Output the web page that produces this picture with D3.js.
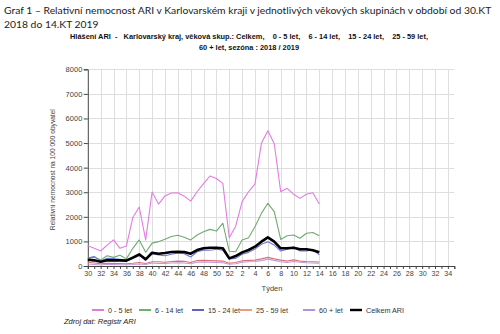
<!DOCTYPE html>
<html>
<head>
<meta charset="utf-8">
<script src="https://cdn.jsdelivr.net/npm/d3@7/dist/d3.min.js"></script>
<style>
  html, body { margin: 0; padding: 0; background: #fff; }
  svg { display: block; }
</style>
</head>
<body>
<svg id="chart" width="500" height="334"></svg>
<script>
// Calendar weeks of the season 2018/2019 (axis runs from week 30 to week 35)
const axisWeeks = [30,31,32,33,34,35,36,37,38,39,40,41,42,43,44,45,46,47,48,49,50,51,52,
                   1,2,3,4,5,6,7,8,9,10,11,12,13,14,15,16,17,18,19,20,21,22,23,24,25,26,27,28,29,30,31,32,33,34,35];

// Reported weeks with data (30.KT 2018 – 14.KT 2019)
const dataWeeks = [30,31,32,33,34,35,36,37,38,39,40,41,42,43,44,45,46,47,48,49,50,51,52,
                   1,2,3,4,5,6,7,8,9,10,11,12,13,14];

// ARI incidence per 100 000 inhabitants, by age group
const age0_5 = [820,720,610,850,1060,720,810,1970,2400,1060,3010,2520,2850,2970,2980,2840,2640,3020,3350,3660,3560,3360,1150,
                1620,2620,3020,3330,4990,5500,4970,3020,3160,2920,2750,2920,2980,2520];
const age6_14 = [300,360,250,420,350,440,290,720,1060,560,930,990,1090,1200,1250,1170,1060,1260,1390,1490,1420,1740,600,
                 580,1060,1150,1600,2140,2550,2210,1080,1230,1260,1130,1330,1360,1230];
const age15_24 = [325,390,200,310,300,270,200,310,420,310,500,450,420,475,530,500,365,580,640,640,680,640,285,
                  310,475,555,690,880,990,850,610,680,770,610,610,665,450];
const age25_59 = [150,120,90,110,100,100,90,110,140,100,170,170,150,180,200,190,140,220,230,220,210,200,110,
                  140,210,230,240,290,350,290,240,200,250,200,180,170,160];
const age60plus = [80,60,40,70,60,50,50,60,80,60,120,100,100,120,130,120,90,150,160,150,140,130,70,
                   90,150,170,180,220,280,230,170,140,180,150,130,120,110];
const total = [257,230,176,230,230,230,217,340,475,270,540,500,530,570,580,570,500,650,720,745,745,720,310,
               405,555,650,785,990,1165,990,720,720,745,680,680,640,555];

const yTicks = [0,1000,2000,3000,4000,5000,6000,7000,8000];

const seriesNames = ["0 - 5 let", "6 - 14 let", "15 - 24 let", "25 - 59 let", "60 + let", "Celkem ARI"];
const seriesValues = [age0_5, age6_14, age15_24, age25_59, age60plus, total];
const lineColors = ["#e47be4", "#6fab6f", "#6f73d6", "#d9707e", "#c49ad8", "#000000"];
const legendColors = ["#d040d0", "#2f8f2f", "#1a1ab0", "#e8704a", "#9b5fc8", "#000000"];
const lineWidths = [1.1, 1.1, 1.1, 1.1, 1.1, 2.6];

const svg = d3.select("#chart");

// Page heading: the first line is sized so it spans the page width
const heading1 = svg.append("text")
  .attr("x", 4).attr("y", 14)
  .attr("font-family", "Lato, 'Open Sans', sans-serif")
  .attr("font-size", 11)
  .attr("fill", "#222")
  .text("Graf 1 – Relativní nemocnost ARI v Karlovarském kraji v jednotlivých věkových skupinách v období od 30.KT");
const headingSize = Math.min(11.5, 11 * 488 / heading1.node().getComputedTextLength());
heading1.attr("font-size", headingSize);
svg.append("text")
  .attr("x", 4).attr("y", 27.5)
  .attr("font-family", "Lato, 'Open Sans', sans-serif")
  .attr("font-size", headingSize)
  .attr("fill", "#222")
  .text("2018 do 14.KT 2019");

// Chart subtitle; wide gaps between the age groups use no-break spaces
const gap = "\u00A0\u00A0\u00A0\u00A0";
const sub = svg.append("g")
  .attr("font-family", "'Liberation Sans', Arial, sans-serif")
  .attr("font-weight", "bold")
  .attr("fill", "#111")
  .attr("text-anchor", "middle");
const sub1 = sub.append("text").attr("x", 249).attr("y", 38.5)
  .attr("font-size", 7.2)
  .text(`Hlášení ARI\u00A0\u00A0-\u00A0\u00A0 Karlovarský kraj, věková skup.: Celkem,${gap}0 - 5 let,${gap}6 - 14 let,${gap}15 - 24 let,${gap}25 - 59 let,`);
const subSize = Math.min(7.4, 7.2 * 382 / sub1.node().getComputedTextLength());
sub1.attr("font-size", subSize);
sub.append("text").attr("x", 249).attr("y", 49.5)
  .attr("font-size", subSize)
  .text("60 + let, sezóna : 2018 / 2019");

// Scales
const x = d3.scaleLinear().domain([0, axisWeeks.length - 1]).range([87.8, 454.3]);
const y = d3.scaleLinear().domain([0, 8000]).range([266, 69.3]);

// Grid
const grid = svg.append("g").attr("stroke", "#dedede").attr("stroke-width", 1);
grid.selectAll("line.h").data(yTicks.slice(1)).join("line")
  .attr("x1", x(0)).attr("x2", x(axisWeeks.length - 1))
  .attr("y1", d => Math.round(y(d)) + 0.5).attr("y2", d => Math.round(y(d)) + 0.5);
grid.selectAll("line.v").data(axisWeeks.map((w, i) => ({w, i})).filter(d => d.w % 2 === 0 && d.i > 0)).join("line")
  .attr("x1", d => Math.round(x(d.i)) + 0.5).attr("x2", d => Math.round(x(d.i)) + 0.5)
  .attr("y1", y(8000)).attr("y2", y(0));

// Axes
const xAxis = d3.axisBottom(x)
  .tickValues(d3.range(axisWeeks.length))
  .tickSize(3)
  .tickFormat(i => axisWeeks[i] % 2 === 0 ? axisWeeks[i] : "");
const gx = svg.append("g").attr("transform", `translate(0,${y(0)})`).call(xAxis);
gx.select(".domain").attr("stroke", "#444");
gx.selectAll(".tick line").attr("stroke", "#444");
gx.selectAll(".tick text")
  .attr("font-family", "'Liberation Sans', Arial, sans-serif")
  .attr("font-size", 7.2).attr("fill", "#444").attr("dy", "0.55em");

const yAxis = d3.axisLeft(y).tickValues(yTicks).tickSize(4).tickFormat(d3.format("d"));
const gy = svg.append("g").attr("transform", `translate(${x(0)},0)`).call(yAxis);
gy.select(".domain").attr("stroke", "#444");
gy.selectAll(".tick line").attr("stroke", "#444");
gy.selectAll(".tick text")
  .attr("font-family", "'Liberation Sans', Arial, sans-serif")
  .attr("font-size", 7.5).attr("fill", "#444").attr("x", -5.5);

// Axis titles
svg.append("text")
  .attr("transform", `translate(55,${(y(0) + y(8000)) / 2 + 2}) rotate(-90)`)
  .attr("text-anchor", "middle")
  .attr("font-family", "'Liberation Sans', Arial, sans-serif")
  .attr("font-size", 6.6).attr("fill", "#444")
  .text("Relativní nemocnost na 100 000 obyvatel");
svg.append("text")
  .attr("x", 272).attr("y", 291)
  .attr("text-anchor", "middle")
  .attr("font-family", "'Liberation Sans', Arial, sans-serif")
  .attr("font-size", 7.5).attr("fill", "#444")
  .text("Týden");

// Series lines
const indexOfWeek = dataWeeks.map((w, k) => k);
const line = d3.line().x(d => x(d[0])).y(d => y(d[1]));
const drawOrder = [3, 4, 1, 0, 2, 5];
drawOrder.forEach(s => {
  svg.append("path")
    .datum(seriesValues[s].map((v, k) => [indexOfWeek[k], v]))
    .attr("fill", "none")
    .attr("stroke", lineColors[s])
    .attr("stroke-width", lineWidths[s])
    .attr("stroke-linejoin", "round")
    .attr("d", line);
});

// Legend
const legendX = [92, 139, 192, 240, 303, 350];
const legend = svg.append("g")
  .attr("font-family", "'Liberation Sans', Arial, sans-serif")
  .attr("font-size", 7.2).attr("fill", "#333");
seriesNames.forEach((name, s) => {
  legend.append("line")
    .attr("x1", legendX[s]).attr("x2", legendX[s] + 12)
    .attr("y1", 310).attr("y2", 310)
    .attr("stroke", legendColors[s])
    .attr("stroke-width", s === 5 ? 2.4 : 1.4);
  legend.append("text")
    .attr("x", legendX[s] + 16).attr("y", 312.5)
    .text(name);
});

// Source note
svg.append("text")
  .attr("x", 64).attr("y", 324)
  .attr("font-family", "'Liberation Sans', Arial, sans-serif")
  .attr("font-size", 7.5).attr("font-style", "italic").attr("fill", "#222")
  .text("Zdroj dat: Registr ARI");
</script>
</body>
</html>
